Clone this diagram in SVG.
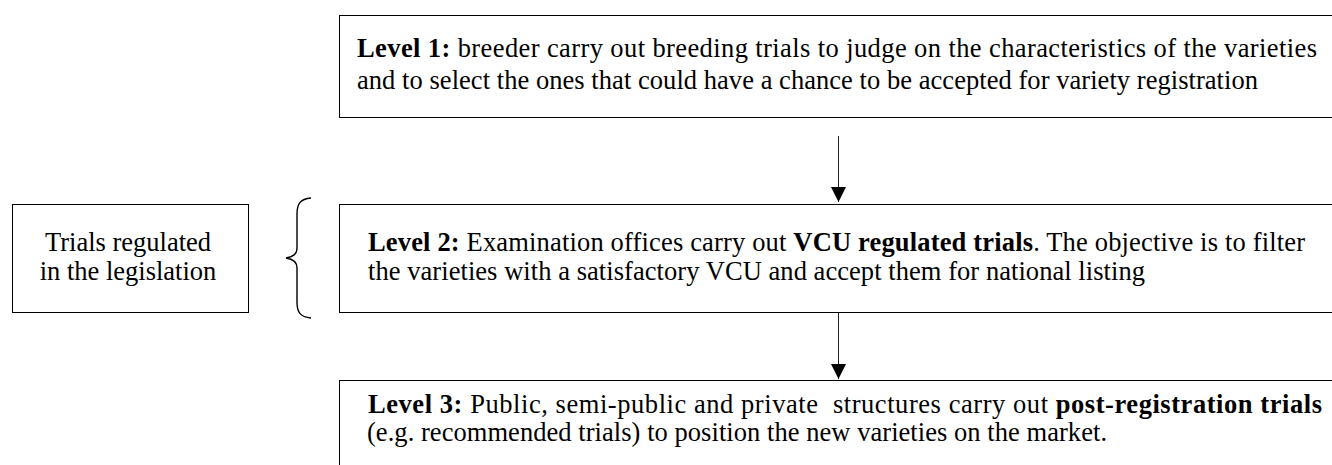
<svg xmlns="http://www.w3.org/2000/svg" width="1332" height="465" viewBox="0 0 1332 465">
<style>
.box{fill:#fff;stroke:#000;stroke-width:1}
.t{font-family:"Liberation Serif","Times New Roman",serif;font-size:26.5px;fill:#000}
.b{font-weight:bold}
.conn{stroke:#222;stroke-width:1;fill:none}
</style>
<defs>
<marker id="ah" markerWidth="16" markerHeight="17" refX="15" refY="8" orient="auto" markerUnits="userSpaceOnUse" viewBox="0 0 16 17">
<path d="M0,0.5 L15,8 L0,15.5 Z" fill="#000"/>
</marker>
</defs>
<rect width="1332" height="465" fill="#fff"/>
<g id="level1">
<rect class="box" x="339.5" y="15.5" width="1010" height="102"/>
<text class="t" x="357" y="57" textLength="960" lengthAdjust="spacing"><tspan class="b">Level 1:</tspan> breeder carry out breeding trials to judge on the characteristics of the varieties</text>
<text class="t" x="357" y="88.5" textLength="901" lengthAdjust="spacing">and to select the ones that could have a chance to be accepted for variety registration</text>
</g>
<g id="level2">
<rect class="box" x="339.5" y="204.5" width="1010" height="108"/>
<text class="t" x="368" y="251" textLength="937" lengthAdjust="spacing"><tspan class="b">Level 2:</tspan> Examination offices carry out <tspan class="b">VCU regulated trials</tspan>. The objective is to filter</text>
<text class="t" x="368" y="280" textLength="777" lengthAdjust="spacing">the varieties with a satisfactory VCU and accept them for national listing</text>
</g>
<g id="level3">
<rect class="box" x="339.5" y="380.5" width="1010" height="120"/>
<text class="t" x="368" y="413" textLength="954" lengthAdjust="spacing" xml:space="preserve"><tspan class="b">Level 3:</tspan> Public, semi-public and private  structures carry out <tspan class="b">post-registration trials</tspan></text>
<text class="t" x="367" y="440.5" textLength="740" lengthAdjust="spacing">(e.g. recommended trials) to position the new varieties on the market.</text>
</g>
<g id="legislation">
<rect class="box" x="12.5" y="204.5" width="236" height="108"/>
<text class="t" x="128" y="251" text-anchor="middle">Trials regulated</text>
<text class="t" x="128" y="280" text-anchor="middle">in the legislation</text>
</g>
<g id="brace">
<path d="M311,198 C300,199 297,204 297,214 L297,248 C297,254 293,257 286,258 C293,259 297,262 297,268 L297,302 C297,312 300,317 311,318" fill="none" stroke="#000" stroke-width="1.4"/>
</g>
<g id="connectors">
<line class="conn" x1="838.5" y1="136" x2="838.5" y2="202" marker-end="url(#ah)"/>
<line class="conn" x1="838.5" y1="313" x2="838.5" y2="379" marker-end="url(#ah)"/>
</g>
</svg>
